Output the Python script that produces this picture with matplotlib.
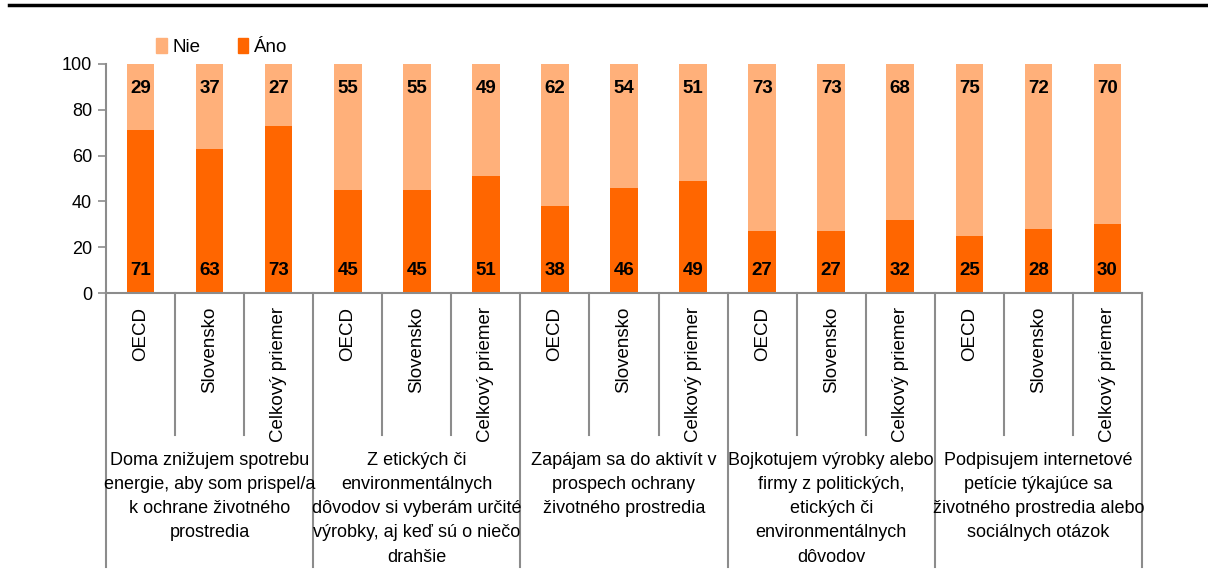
import matplotlib
matplotlib.use("Agg")
import matplotlib.pyplot as plt
from matplotlib.patches import Patch
from matplotlib.transforms import blended_transform_factory
import numpy as np

# ── data ─────────────────────────────────────────────────────────────────
GROUPS = [
    "Doma znižujem spotrebu\nenergie, aby som prispel/a\nk ochrane životného\nprostredia",
    "Z etických či\nenvironmentálnych\ndôvodov si vyberám určité\nvýrobky, aj keď sú o niečo\ndrahšie",
    "Zapájam sa do aktivít v\nprospech ochrany\nživotného prostredia",
    "Bojkotujem výrobky alebo\nfirmy z politických,\netických či\nenvironmentálnych\ndôvodov",
    "Podpisujem internetové\npetície týkajúce sa\nživotného prostredia alebo\nsociálnych otázok",
]
SUBCATS = ["OECD", "Slovensko", "Celkový priemer"]
ANO = [71, 63, 73, 45, 45, 51, 38, 46, 49, 27, 27, 32, 25, 28, 30]
NIE = [29, 37, 27, 55, 55, 49, 62, 54, 51, 73, 73, 68, 75, 72, 70]

# ── style ────────────────────────────────────────────────────────────────
C_ANO, C_NIE = "#FF6600", "#FFB07A"
GRAY = "#8C8C8C"
plt.rcParams["font.family"] = ["Liberation Sans", "DejaVu Sans"]

W, H = 1208, 574
fig = plt.figure(figsize=(W / 100, H / 100), dpi=100)
ax = fig.add_axes([106 / W, 1 - 293 / H, (1142 - 106) / W, (293 - 64) / H])

n = len(ANO)
x = np.arange(n)
ax.bar(x, ANO, width=0.4, color=C_ANO, zorder=2)
ax.bar(x, NIE, width=0.4, bottom=ANO, color=C_NIE, zorder=2)

for i in range(n):
    ax.text(x[i], 10, f"{ANO[i]}", ha="center", va="center",
            fontsize=13.5, fontweight="bold", color="black")
    ax.text(x[i], 89.5, f"{NIE[i]}", ha="center", va="center",
            fontsize=13.5, fontweight="bold", color="black")

ax.set_xlim(-0.5, n - 0.5)
ax.set_ylim(0, 100)
ax.set_yticks(range(0, 101, 20))
ax.set_xticks([])
ax.tick_params(axis="y", labelsize=13, length=6, color=GRAY, width=1.2, pad=4)
for s in ["top", "right"]:
    ax.spines[s].set_visible(False)
for s in ["left", "bottom"]:
    ax.spines[s].set_color(GRAY)
    ax.spines[s].set_linewidth(1.5)

# ── multi-level category axis ────────────────────────────────────────────
tr = blended_transform_factory(ax.transData, ax.transAxes)
px = 1 / (293 - 64)  # one pixel in axes fraction (vertically)
y_inner = -(435 - 293) * px
y_outer = -(567 - 293) * px

for i in range(n + 1):
    xb = i - 0.5
    y_end = y_outer if i % 3 == 0 else y_inner
    ax.plot([xb, xb], [0, y_end], transform=tr, color=GRAY, lw=1.5,
            clip_on=False, zorder=1)

for i in range(n):
    ax.text(x[i], -(307 - 293) * px, SUBCATS[i % 3], transform=tr,
            rotation=90, ha="center", va="top", fontsize=13.5)

for g, label in enumerate(GROUPS):
    ax.text(3 * g + 1, -(452 - 293) * px, label, transform=tr,
            ha="center", va="top", fontsize=13, linespacing=1.55)

# ── legend ───────────────────────────────────────────────────────────────
handles = [Patch(color=C_NIE, label="Nie"), Patch(color=C_ANO, label="Áno")]
fig.legend(handles=handles, loc="center left", ncol=2, frameon=False,
           bbox_to_anchor=(147 / W, 1 - 47 / H), fontsize=13.5,
           handlelength=0.55, handleheight=0.8, handletextpad=0.3,
           columnspacing=2.0, borderpad=0)

# top rule
fig.add_artist(plt.Line2D([9 / W, 1206 / W], [1 - 5 / H, 1 - 5 / H],
                          color="black", lw=2.5))

fig.savefig("out.png", dpi=100, facecolor="white")
